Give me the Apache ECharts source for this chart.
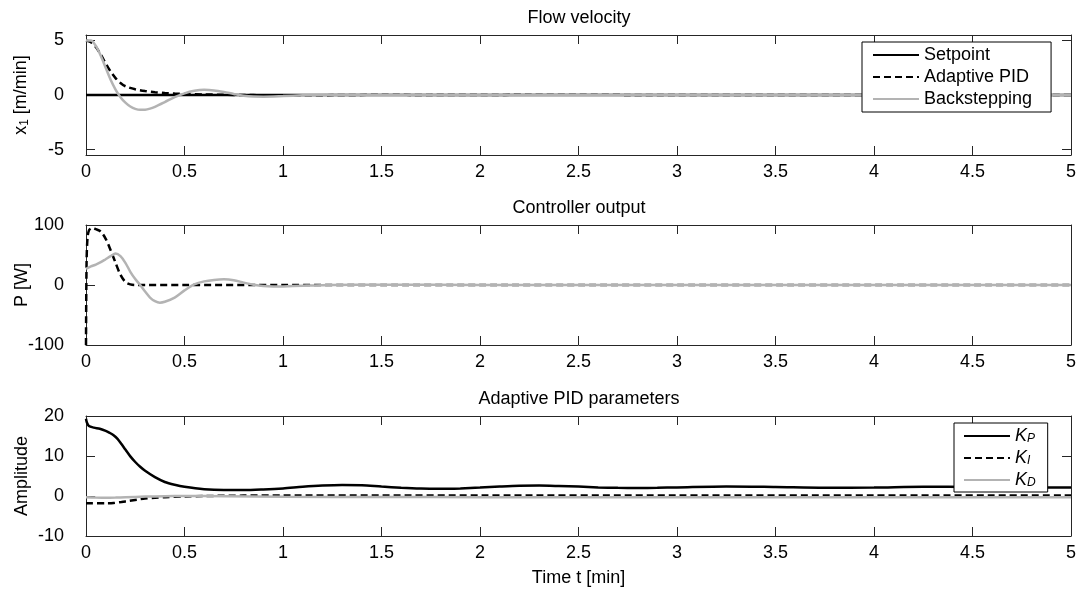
<!DOCTYPE html>
<html><head><meta charset="utf-8">
<script src="https://cdn.jsdelivr.net/npm/echarts@6/dist/echarts.min.js"></script>
<style>html,body{margin:0;padding:0;background:#fff}#c{width:1077px;height:596px}</style>
</head><body><div id="c"></div>
<script>
// ---------- data (time in minutes) ----------
const setpointT = [0, 5];
const setpointV = [0, 0];

const pidFlowT = [0,0.025,0.05,0.075,0.1,0.125,0.15,0.175,0.2,0.25,0.3,0.35,0.4,0.45,0.5,0.6,0.7,0.8,0.9,1.0,1.25,1.5,1.75,2.0,2.25,2.5,2.75,3.0,3.5,4.0,4.5,5.0];
const pidFlowV = [5.0,4.85,4.4,3.7,2.9,2.15,1.55,1.1,0.8,0.52,0.36,0.26,0.19,0.14,0.1,0.05,0.02,0.0,-0.02,-0.03,-0.01,0.02,0.0,-0.01,0.03,0.03,0.01,0.0,0.01,0.0,0.0,0.0];

const bsFlowT = [0,0.025,0.05,0.075,0.1,0.125,0.15,0.175,0.2,0.225,0.25,0.275,0.3,0.325,0.35,0.4,0.45,0.5,0.55,0.6,0.65,0.7,0.75,0.8,0.85,0.9,1.0,1.1,1.25,1.5,1.75,2.0,2.25,2.5,3.0,3.5,4.0,4.5,5.0];
const bsFlowV = [5.0,5.0,4.5,3.6,2.5,1.4,0.5,-0.2,-0.7,-1.05,-1.27,-1.36,-1.35,-1.25,-1.08,-0.65,-0.2,0.15,0.38,0.47,0.42,0.28,0.1,-0.06,-0.14,-0.15,-0.1,-0.03,0.03,0.03,0.0,-0.02,0.02,0.03,0.0,0.01,0.0,0.0,0.0];

const pidPowerT = [0,0.003,0.008,0.015,0.025,0.035,0.05,0.075,0.1,0.125,0.15,0.175,0.2,0.225,0.25,0.3,0.5,1,1.5,2,2.5,3,3.5,4,4.5,5];
const pidPowerV = [-100,40,80,91,94,95,93,89,77,58,37,17,5,1,0,0,0,0,0,0,0,0,0,0,0,0];

const bsPowerT = [0,0.025,0.05,0.075,0.1,0.125,0.15,0.175,0.2,0.225,0.25,0.275,0.3,0.325,0.35,0.375,0.4,0.45,0.5,0.55,0.6,0.65,0.7,0.75,0.8,0.85,0.9,0.95,1.0,1.1,1.25,1.5,2,2.5,3,3.5,4,4.5,5];
const bsPowerV = [27,31,34,38,43,48,52.5,48,37,22,10,0,-11,-21,-27,-29.5,-28,-21,-9,1,6,8.5,9.5,8,4,0.5,-1.8,-2.5,-2.3,-1.2,0,0.5,0,0,0,0,0,0,0];

const kpT = [0,0.005,0.015,0.04,0.07,0.1,0.12,0.14,0.16,0.18,0.2,0.225,0.25,0.275,0.3,0.35,0.4,0.45,0.5,0.6,0.7,0.8,0.9,1.0,1.1,1.2,1.3,1.4,1.5,1.6,1.7,1.8,1.9,2.0,2.1,2.2,2.3,2.4,2.5,2.6,2.7,2.8,2.9,3.0,3.25,3.5,3.75,4.0,4.25,4.5,4.75,5.0];
const kpV = [19.3,18.3,17.5,17.1,16.8,16.3,15.8,15.2,14.3,13.0,11.6,9.9,8.5,7.3,6.3,4.7,3.5,2.8,2.3,1.7,1.5,1.5,1.65,1.9,2.3,2.6,2.75,2.7,2.35,2.05,1.85,1.8,1.9,2.1,2.35,2.55,2.6,2.5,2.35,2.15,2.05,2.0,2.05,2.15,2.4,2.25,2.05,2.1,2.3,2.25,2.1,2.15];

const kiT = [0,0.1,0.14,0.18,0.22,0.26,0.3,0.35,0.4,0.5,0.6,0.8,1.0,1.5,2,3,4,5];
const kiV = [-1.8,-1.8,-1.75,-1.5,-1.2,-0.9,-0.65,-0.45,-0.3,-0.12,0.0,0.1,0.15,0.15,0.15,0.15,0.15,0.15];

const kdT = [0,0.05,0.1,0.15,0.2,0.3,0.4,0.5,0.7,1.0,1.5,2,3,4,5];
const kdV = [-0.3,-0.4,-0.45,-0.4,-0.3,-0.15,-0.05,0.0,-0.05,-0.2,-0.25,-0.3,-0.3,-0.3,-0.3];

const xTickStep = 0.5;
const flowTicks = [-5, 0, 5];
const titles = ['Flow velocity', 'Controller output', 'Adaptive PID parameters'];

// ---------- helpers ----------
const zip = (t, v) => t.map((x, i) => [x, v[i]]);
const FONT = 'Liberation Sans, Arial, Helvetica, sans-serif';
const AX = '#262626';
const GRAY = '#b3b3b3';
const tops = [35, 225, 416];
const H = 120;

const grids = tops.map(t => ({left: 86, width: 985, top: t, height: H, containLabel: false, outerBoundsMode: 'none'}));

const xAxes = [];
const yAxes = [];
const yLim = [
  {min: -5.5, max: 5.5, custom: flowTicks},
  {min: -100, max: 100, interval: 100},
  {min: -10, max: 20, interval: 10}
];
const yNames = ['{n|x}{s|1}{n| [m/min]}', 'P [W]', 'Amplitude'];

for (let g = 0; g < 3; g++) {
  ['bottom', 'top'].forEach(pos => {
    xAxes.push({
      type: 'value', gridIndex: g, position: pos, min: 0, max: 5, interval: xTickStep,
      axisLine: {show: true, onZero: false, lineStyle: {color: AX, width: 1}},
      axisTick: {show: true, inside: true, length: 9, lineStyle: {color: AX}},
      axisLabel: {show: pos === 'bottom', fontSize: 18, color: '#000', fontFamily: FONT, margin: 8},
      splitLine: {show: false},
      name: (pos === 'bottom' && g === 2) ? 'Time t [min]' : '',
      nameLocation: 'middle', nameGap: 33, nameMoveOverlap: false,
      nameTextStyle: {fontSize: 18, color: '#000', fontFamily: FONT}
    });
  });
  ['left', 'right'].forEach(pos => {
    const L = yLim[g];
    const ax = {
      type: 'value', gridIndex: g, position: pos, min: L.min, max: L.max,
      axisLine: {show: true, onZero: false, lineStyle: {color: AX, width: 1}},
      axisTick: {show: true, inside: true, length: 9, lineStyle: {color: AX}},
      axisLabel: {show: pos === 'left', fontSize: 18, color: '#000', fontFamily: FONT, margin: 22},
      splitLine: {show: false},
      name: pos === 'left' ? yNames[g] : '',
      nameLocation: 'middle', nameGap: 55, nameMoveOverlap: false,
      nameTextStyle: {fontSize: 18, color: '#000', fontFamily: FONT,
        rich: {n: {fontSize: 18, fontFamily: FONT, color: '#000'},
               s: {fontSize: 12, fontFamily: FONT, color: '#000', padding: [8, 0, 0, 0]}}}
    };
    if (L.interval) ax.interval = L.interval;
    if (L.custom) {
      ax.axisTick.customValues = L.custom;
      ax.axisLabel.customValues = L.custom;
    }
    yAxes.push(ax);
  });
}

function line(name, data, g, color, dashed) {
  return {
    name, type: 'line', data, xAxisIndex: g * 2, yAxisIndex: g * 2,
    showSymbol: false, symbol: 'none', smooth: 0.3, animation: false,
    lineStyle: {color, width: 2.5, type: dashed ? [7, 4] : 'solid'},
    itemStyle: {color}
  };
}

const series = [
  line('Setpoint', zip(setpointT, setpointV), 0, '#000', false),
  line('Adaptive PID', zip(pidFlowT, pidFlowV), 0, '#000', true),
  line('Backstepping', zip(bsFlowT, bsFlowV), 0, GRAY, false),
  line('Adaptive PID', zip(pidPowerT, pidPowerV), 1, '#000', true),
  line('Backstepping', zip(bsPowerT, bsPowerV), 1, GRAY, false),
  line('K_P', zip(kpT, kpV), 2, '#000', false),
  line('K_I', zip(kiT, kiV), 2, '#000', true),
  line('K_D', zip(kdT, kdV), 2, GRAY, false)
];

const legendBase = {
  orient: 'vertical', itemWidth: 46, itemHeight: 18, itemGap: 4,
  borderColor: '#000', borderWidth: 1, backgroundColor: '#fff', borderRadius: 0,
  selectedMode: false,
  itemStyle: {opacity: 0, color: 'rgba(0,0,0,0)', borderWidth: 0},
  textStyle: {fontSize: 18, color: '#000', fontFamily: FONT}
};

const option = {
  animation: false,
  backgroundColor: '#fff',
  title: titles.map((t, i) => ({
    text: t, left: 579, top: tops[i] - 26, textAlign: 'center', padding: 0,
    textStyle: {fontSize: 18, fontWeight: 'normal', color: '#000', fontFamily: FONT}
  })),
  grid: grids,
  xAxis: xAxes,
  yAxis: yAxes,
  legend: [
    Object.assign({}, legendBase, {
      data: ['Setpoint', 'Adaptive PID', 'Backstepping'],
      left: 862, top: 42, padding: [4, 19, 4, 10]
    }),
    Object.assign({}, legendBase, {
      data: ['K_P', 'K_I', 'K_D'],
      left: 954, top: 423, padding: [4, 12, 3, 9],
      formatter: n => '{k|K}{s|' + n.slice(2) + '}',
      textStyle: {fontSize: 18, color: '#000', fontFamily: FONT,
        rich: {k: {fontSize: 18, lineHeight: 18, fontStyle: 'italic', fontFamily: FONT, color: '#000'},
               s: {fontSize: 12, lineHeight: 12, fontStyle: 'italic', fontFamily: FONT, color: '#000', padding: [6, 0, 0, 0]}}}
    })
  ],
  series
};

const chart = echarts.init(document.getElementById('c'), null, {renderer: 'canvas'});
chart.setOption(option);
</script>
</body></html>
